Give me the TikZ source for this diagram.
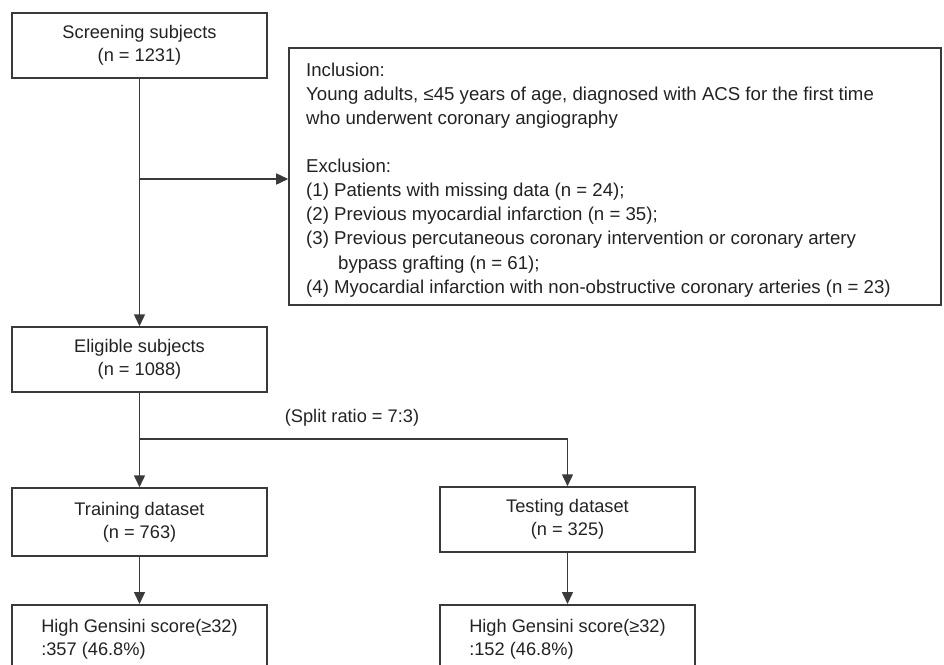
\documentclass[tikz,border=0pt]{standalone}
\usepackage{fontspec}
\setmainfont{Liberation Sans}
\usetikzlibrary{arrows.meta,positioning}
\definecolor{ink}{HTML}{222222}
\definecolor{edge}{HTML}{3A3A3A}
\begin{document}
\begin{tikzpicture}[x=1bp,y=-1bp,
  every node/.style={text=ink},
  box/.style={draw=edge,line width=1.5bp,minimum width=255bp,inner sep=0pt,
    align=center,font=\fontsize{18.3}{23}\selectfont},
  opentxt/.style={inner sep=0pt,align=left,font=\fontsize{18.7}{24.2}\selectfont},
  conn/.style={draw=edge,line width=1.5bp},
  arr/.style={conn,-{Triangle[length=12bp,width=11bp]}}]
\useasboundingbox (0,0) rectangle (944,665);
\clip (0,0) rectangle (944,665);
\node[box,minimum height=65bp] (scr) at (139.5,45.5) {Screening subjects\\(n = 1231)};
\node[box,minimum width=652bp,minimum height=257bp] (crit) at (615,176.5) {};
\node[opentxt,anchor=north west] (crittext) at (306,62.5) {Inclusion:\\
Young adults, ≤45 years of age, diagnosed with ACS for the first time\\
who underwent coronary angiography\\
\mbox{}\\
Exclusion:\\
(1) Patients with missing data (n = 24);\\
(2) Previous myocardial infarction (n = 35);\\
(3) Previous percutaneous coronary intervention or coronary artery\\
\hspace*{32bp}bypass grafting (n = 61);\\
(4) Myocardial infarction with non-obstructive coronary arteries (n = 23)};
\node[box,minimum height=65bp] (elig) at (139.5,359.5) {Eligible subjects\\(n = 1088)};
\node[box,minimum height=68bp] (train) at (139.5,522) {Training dataset\\(n = 763)};
\node[box,minimum height=65bp] (test) at (567.5,519.5) {Testing dataset\\(n = 325)};
\node[box,align=left,minimum width=255bp,minimum height=69bp,anchor=north] (hL) at (139.5,604) {High Gensini score(≥32)\\:357 (46.8\%)};
\node[box,align=left,minimum width=255bp,minimum height=69bp,anchor=north] (hR) at (567.5,604) {High Gensini score(≥32)\\:152 (46.8\%)};
\node[inner sep=0pt,font=\fontsize{18.3}{23}\selectfont] (split) at (352,418) {(Split ratio = 7:3)};
\coordinate (j1) at (139.5,179);
\coordinate (j2) at (139.5,439);
\draw[arr] (scr) -- (elig);
\draw[arr] (j1) -- (crit.west |- j1);
\draw[arr] (elig) -- (train);
\draw[arr] (j2) -| (test.north);
\draw[arr] (train) -- (hL);
\draw[arr] (test) -- (hR);
\end{tikzpicture}
\end{document}
